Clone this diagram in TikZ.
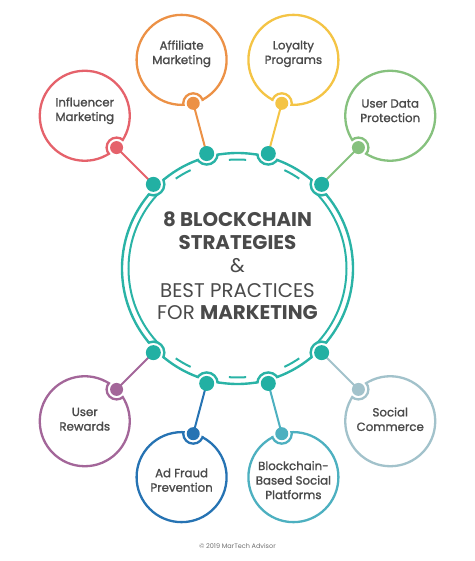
\documentclass[tikz,border=0pt]{standalone}
\usepackage{fontspec}
\setmainfont{Poppins}
\newfontfamily\satfont{Poppins}[FakeBold=1.3]
\usetikzlibrary{calc}
\definecolor{ringc}{HTML}{2AB3A6}
\definecolor{dotc}{HTML}{22B0A3}
\definecolor{txtc}{HTML}{4A4A4A}
\definecolor{cInf}{HTML}{E5626B}
\definecolor{cAff}{HTML}{EC9146}
\definecolor{cLoy}{HTML}{F4C445}
\definecolor{cUsd}{HTML}{86C17E}
\definecolor{cSoc}{HTML}{A2C2CB}
\definecolor{cBlo}{HTML}{4DB0C0}
\definecolor{cAdf}{HTML}{2673B3}
\definecolor{cRew}{HTML}{A36699}
\tikzset{
  sattext/.style={align=center, text=txtc, font=\satfont\fontsize{11.8}{14.5}\selectfont},
  titletext/.style={anchor=base, text=txtc, font=\fontsize{19.8}{22}\selectfont, inner sep=0pt},
}
\begin{document}
\begin{tikzpicture}[x=1pt,y=1pt]
\useasboundingbox (-237.5,-292.5) rectangle (236.5,268.5);
\coordinate (C) at (0,0);
% main ring
\draw[ringc, line width=2.4] (C) circle (115.5);
\draw[ringc, line width=2] (135:109) arc (135:225:109);
\draw[ringc, line width=2] (-45:109) arc (-45:45:109);
\foreach \a in {120,90,60,-60,-90,-120}
  \draw[ringc, line width=2] ({\a+4.5}:109) arc ({\a+4.5}:{\a-4.5}:109);
% satellites
\foreach \a/\c/\n in {135/cInf/inf, 105/cAff/aff, 75/cLoy/loy, 45/cUsd/usd,
                      -45/cSoc/soc, -75/cBlo/blo, -105/cAdf/adf, -135/cRew/rew}{
  \coordinate (S\n) at (\a:216);
  \coordinate (P\n) at (\a:171);
  \coordinate (R\n) at (\a:119);
  \draw[\c, line width=2.3, fill=white] (S\n) circle (45);
  \fill[white] (P\n) circle (10);
  \fill[white] (R\n) circle (11);
  \begin{scope}
    \clip (S\n) circle (46.2);
    \draw[\c, line width=2.3] (P\n) circle (10);
  \end{scope}
  \begin{scope}
    \clip (C) circle (116.7);
    \draw[ringc, line width=2.4] (R\n) circle (11);
  \end{scope}
  \draw[\c, line width=2] (P\n) -- (R\n);
  \fill[\c] (P\n) circle (6.5);
  \fill[dotc] (R\n) circle (7.5);
}
% satellite texts
\node[sattext] (tinf) at ($(Sinf)+(0,5)$) {Influencer\\Marketing};
\node[sattext] (taff) at ($(Saff)+(0,6)$) {Affiliate\\Marketing};
\node[sattext] (tloy) at ($(Sloy)+(0,6)$) {Loyalty\\Programs};
\node[sattext] (tusd) at ($(Susd)+(0,5)$) {User Data\\Protection};
\node[sattext] (tsoc) at ($(Ssoc)+(0,2)$) {Social\\Commerce};
\node[sattext] (tblo) at ($(Sblo)+(0,-3)$) {Blockchain-\\Based Social\\Platforms};
\node[sattext] (tadf) at ($(Sadf)+(0,-3)$) {Ad Fraud\\Prevention};
\node[sattext] (trew) at ($(Srew)+(0,2)$) {User\\Rewards};
% title
\node[titletext] (l1) at (0,41.5) {\textbf{8 BLOCKCHAIN}};
\node[titletext] (l2) at (0,18.5) {\textbf{STRATEGIES}};
\node[titletext] (l3) at (0,-4.5) {\&};
\node[titletext] (l4) at (0,-29.5) {BEST PRACTICES};
\node[titletext] (l5) at (0,-51.5) {FOR \textbf{MARKETING}};
% footer
\node[text=txtc!80, font=\fontsize{6.5}{8}\selectfont] (copy) at (0,-277.5) {© 2019 MarTech Advisor};
\end{tikzpicture}
\end{document}
